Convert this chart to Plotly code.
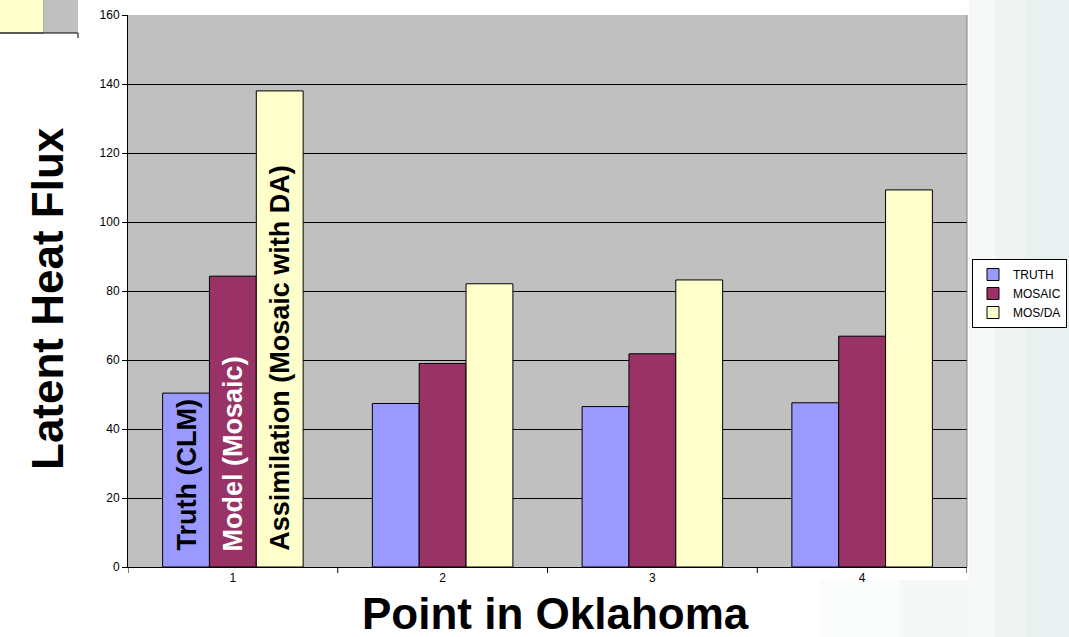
import plotly.graph_objects as go

# Latent heat flux at four points in Oklahoma
points = [1, 2, 3, 4]
point_labels = ["1", "2", "3", "4"]
truth = [50.4, 47.4, 46.5, 47.6]
mosaic = [84.3, 59.0, 61.8, 66.9]
mos_da = [138.0, 82.1, 83.2, 109.3]

series_names = ["TRUTH", "MOSAIC", "MOS/DA"]
series_colors = ["#9999ff", "#993366", "#ffffcc"]
bar_notes = ["Truth (CLM)", "Model (Mosaic)", "Assimilation (Mosaic with DA)"]
note_colors = ["black", "white", "black"]

y_ticks = [0, 20, 40, 60, 80, 100, 120, 140, 160]

W, H = 1069, 637
ML, MR, MT, MB = 128, 102, 15, 70
BARGAP = 0.33
BOLD = "Liberation Sans, Arial, sans-serif"

fig = go.Figure()
for name, vals, col in zip(series_names, [truth, mosaic, mos_da], series_colors):
    fig.add_trace(go.Bar(
        x=points, y=vals, name=name,
        marker=dict(color=col, line=dict(color="black", width=1)),
    ))

# labels written up the three bars of the first point
bw = (1 - BARGAP) / 3
for i, (txt, tc) in enumerate(zip(bar_notes, note_colors)):
    fig.add_annotation(
        x=points[0] + (i - 1) * bw, y=0, xref="x", yref="y",
        text="<b>" + txt + "</b>", textangle=-90, showarrow=False,
        xanchor="center", yanchor="bottom", yshift=14,
        font=dict(family=BOLD, size=27, color=tc),
    )

pw = W - ML - MR
ph = H - MT - MB


def px(xp):
    return (xp - ML) / pw


def py(yp):
    return (H - MB - yp) / ph


shapes = []
# soft tinted backdrop toward the right edge of the slide
for x0, c in [(969, "#f6f9f8"), (995, "#f0f5f4"), (1025, "#eaf0ef")]:
    shapes.append(dict(type="rect", xref="paper", yref="paper", x0=px(x0), x1=px(W + 2),
                       y0=py(H + 2), y1=py(-2), fillcolor=c, line=dict(width=0), layer="below"))
for x0, c in [(820, "#fafbfb"), (900, "#f5f8f7")]:
    shapes.append(dict(type="rect", xref="paper", yref="paper", x0=px(x0), x1=px(969),
                       y0=py(H + 2), y1=py(580), fillcolor=c, line=dict(width=0), layer="below"))
shapes += [
    # fragment of another chart in the top-left corner
    dict(type="rect", xref="paper", yref="paper", x0=px(-2), x1=px(44), y0=py(33), y1=py(-2),
         fillcolor="#ffffcc", line=dict(color="#666666", width=1)),
    dict(type="rect", xref="paper", yref="paper", x0=px(44), x1=px(78), y0=py(33), y1=py(-2),
         fillcolor="#c0c0c0", line=dict(width=0)),
    dict(type="line", xref="paper", yref="paper", x0=px(0), x1=px(78), y0=py(33), y1=py(33),
         line=dict(color="black", width=1)),
    dict(type="line", xref="paper", yref="paper", x0=px(78), x1=px(78), y0=py(33), y1=py(38),
         line=dict(color="black", width=1)),
    # plot frame on the right side
    dict(type="line", xref="paper", yref="paper", x0=1, x1=1, y0=0, y1=1,
         line=dict(color="#808080", width=1)),
]

# tick marks at the category boundaries
for b in [0.5, 1.5, 2.5, 3.5, 4.5]:
    shapes.append(dict(type="line", xref="x", yref="paper", x0=b, x1=b, y0=0, y1=-6 / ph,
                       line=dict(color="black", width=1)))

# axis titles
fig.add_annotation(xref="paper", yref="paper", x=px(47), y=py(299), text="<b>Latent Heat Flux</b>",
                   textangle=-90, showarrow=False, xanchor="center", yanchor="middle",
                   font=dict(family=BOLD, size=44, color="black"))
fig.add_annotation(xref="paper", yref="paper", x=px(555), y=py(613), text="<b>Point in Oklahoma</b>",
                   showarrow=False, xanchor="center", yanchor="middle",
                   font=dict(family=BOLD, size=44, color="black"))

fig.update_layout(
    width=W, height=H,
    margin=dict(l=ML, r=MR, t=MT, b=MB, autoexpand=False),
    paper_bgcolor="white",
    plot_bgcolor="#c0c0c0",
    barmode="group", bargap=BARGAP, bargroupgap=0,
    font=dict(family="Liberation Sans, Arial, sans-serif", size=12, color="black"),
    shapes=shapes,
    showlegend=True,
    legend=dict(
        xref="container", yref="container",
        x=972 / W, y=1 - 259 / H, xanchor="left", yanchor="top",
        bgcolor="white", bordercolor="black", borderwidth=1,
        font=dict(size=12, family="Liberation Sans, Arial, sans-serif"),
        tracegroupgap=0, itemwidth=30,
    ),
    xaxis=dict(
        tickmode="array", tickvals=points, ticktext=point_labels,
        range=[0.5, 4.5], ticks="", automargin=False,
        showline=True, linecolor="black", linewidth=1, showgrid=False,
        zeroline=False, tickfont=dict(size=12),
    ),
    yaxis=dict(
        range=[0, 160], tickvals=y_ticks, ticks="outside", ticklen=5, tickcolor="black",
        showline=True, linecolor="black", linewidth=1, automargin=False,
        showgrid=True, gridcolor="black", gridwidth=1, zeroline=False,
        tickfont=dict(size=12),
    ),
)

fig.write_html("out.html")
